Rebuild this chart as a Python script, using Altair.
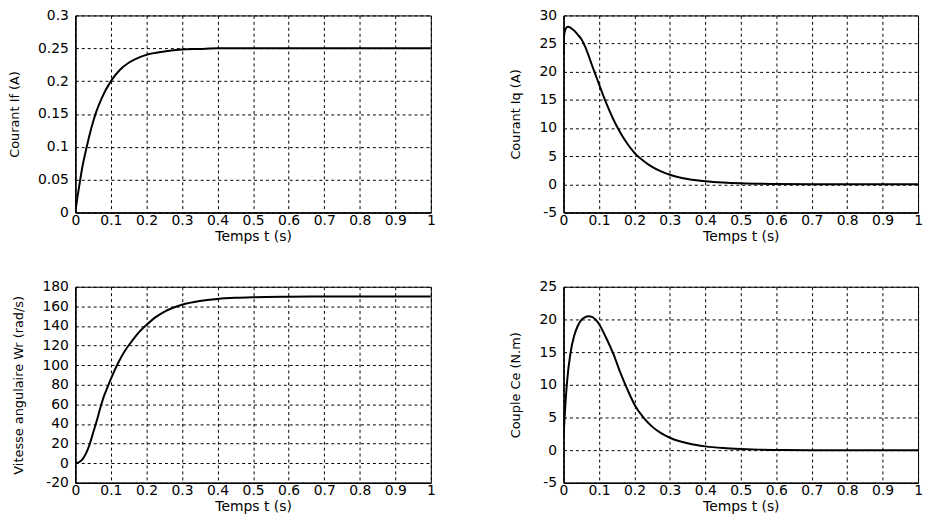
import altair as alt
import pandas as pd

# ---- data ----
X_TICKS = [0, 0.1, 0.2, 0.3, 0.4, 0.5, 0.6, 0.7, 0.8, 0.9, 1]

# Courant If (A)
T_IF = [0, 0.005, 0.01, 0.02, 0.03, 0.04, 0.05, 0.06, 0.075, 0.1, 0.125, 0.15,
        0.175, 0.2, 0.25, 0.3, 0.35, 0.4, 0.5, 0.6, 0.7, 0.8, 0.9, 1.0]
IF_VALUES = [0, 0.02, 0.037, 0.07, 0.095, 0.118, 0.138, 0.155, 0.175, 0.2, 0.217, 0.228,
             0.235, 0.24, 0.245, 0.248, 0.249, 0.25, 0.25, 0.25, 0.25, 0.25, 0.25, 0.25]
IF_TICKS = [0, 0.05, 0.1, 0.15, 0.2, 0.25, 0.3]

# Courant Iq (A)
T_IQ = [0, 0.001, 0.005, 0.012, 0.02, 0.03, 0.04, 0.05, 0.06, 0.07, 0.08, 0.09, 0.1,
        0.12, 0.14, 0.16, 0.18, 0.2, 0.225, 0.25, 0.275, 0.3, 0.325, 0.35, 0.375, 0.4,
        0.45, 0.5, 0.6, 0.7, 0.8, 0.9, 1.0]
IQ_VALUES = [23, 26, 27.5, 28, 27.8, 27.3, 26.6, 25.8, 24.6, 23.0, 21.2, 19.5, 17.8,
             14.5, 11.6, 9.2, 7.2, 5.6, 4.2, 3.1, 2.3, 1.7, 1.27, 0.95, 0.72, 0.55,
             0.32, 0.18, 0.06, 0.02, 0, 0, 0]
IQ_TICKS = [-5, 0, 5, 10, 15, 20, 25, 30]

# Vitesse angulaire Wr (rad/s)
T_WR = [0, 0.01, 0.02, 0.03, 0.04, 0.05, 0.06, 0.07, 0.08, 0.09, 0.1, 0.12, 0.14, 0.16,
        0.18, 0.2, 0.225, 0.25, 0.275, 0.3, 0.35, 0.4, 0.45, 0.5, 0.6, 0.7, 0.8, 0.9, 1.0]
WR_VALUES = [0, 1, 4, 10, 19, 31, 43, 56, 68, 77, 86, 102, 115, 125,
             134, 141, 148.8, 154.5, 158.6, 161.7, 165.5, 167.6, 168.7, 169.3, 169.8,
             170, 170, 170, 170]
WR_TICKS = [-20, 0, 20, 40, 60, 80, 100, 120, 140, 160, 180]

# Couple Ce (N.m)
T_CE = [0, 0.003, 0.01, 0.02, 0.03, 0.04, 0.05, 0.06, 0.07, 0.08, 0.09, 0.1, 0.12, 0.14,
        0.16, 0.18, 0.2, 0.225, 0.25, 0.275, 0.3, 0.325, 0.35, 0.375, 0.4, 0.45, 0.5,
        0.55, 0.6, 0.7, 0.8, 0.9, 1.0]
CE_VALUES = [2, 5, 10.5, 15, 17.5, 19, 19.9, 20.3, 20.5, 20.4, 20, 19.3, 17.2, 14.8,
             11.9, 9.3, 7.0, 5.0, 3.6, 2.6, 1.9, 1.4, 1.05, 0.78, 0.58, 0.33, 0.18,
             0.08, 0.03, 0, 0, 0, 0]
CE_TICKS = [-5, 0, 5, 10, 15, 20, 25]

FONT = "DejaVu Sans"
LABEL_EXPR = "'' + datum.value"


def panel(t, v, ytitle, ydomain, yticks, w, h, title_x):
    df = pd.DataFrame({"t": t, "v": v})
    return alt.Chart(df).mark_line(
        color="black", strokeWidth=2, interpolate="monotone", clip=True
    ).encode(
        x=alt.X("t:Q",
                scale=alt.Scale(domain=[0, 1], nice=False, zero=False),
                axis=alt.Axis(values=X_TICKS, labelExpr=LABEL_EXPR, title="Temps t (s)",
                              titleY=17, titleBaseline="top")),
        y=alt.Y("v:Q",
                scale=alt.Scale(domain=ydomain, nice=False, zero=False),
                axis=alt.Axis(values=yticks, labelExpr=LABEL_EXPR, title=ytitle,
                              titleX=title_x, titleBaseline="middle")),
    ).properties(width=w, height=h)


tl = panel(T_IF, IF_VALUES, "Courant If (A)", [0, 0.3], IF_TICKS, 359, 199, -61)
tr = panel(T_IQ, IQ_VALUES, "Courant Iq (A)", [-5, 30], IQ_TICKS, 358, 199, -48)
bl = panel(T_WR, WR_VALUES, "Vitesse angulaire Wr (rad/s)", [-20, 180], WR_TICKS, 359, 198, -57)
br = panel(T_CE, CE_VALUES, "Couple Ce (N.m)", [-5, 25], CE_TICKS, 358, 198, -48)

chart = alt.concat(tl, tr, bl, br, columns=2).properties(
    align="each",
    spacing={"row": 35, "column": 74},
    padding={"top": -3, "left": 0, "right": 0, "bottom": 0},
    background="white",
).configure_view(
    stroke="black", strokeWidth=1
).configure_axis(
    labelFont=FONT, labelFontSize=14, labelColor="black",
    titleFont=FONT, titleFontWeight="normal", titleColor="black",
    grid=True, gridColor="black", gridDash=[3, 3], gridWidth=1, gridOpacity=1,
    domainColor="black", domainWidth=1.5, ticks=False,
).configure_axisX(
    labelPadding=1, titleFontSize=14, labelFlush=False,
).configure_axisY(
    labelPadding=7, titleFontSize=13,
)

chart.save("out.html", embed_options={"renderer": "svg", "actions": False})
